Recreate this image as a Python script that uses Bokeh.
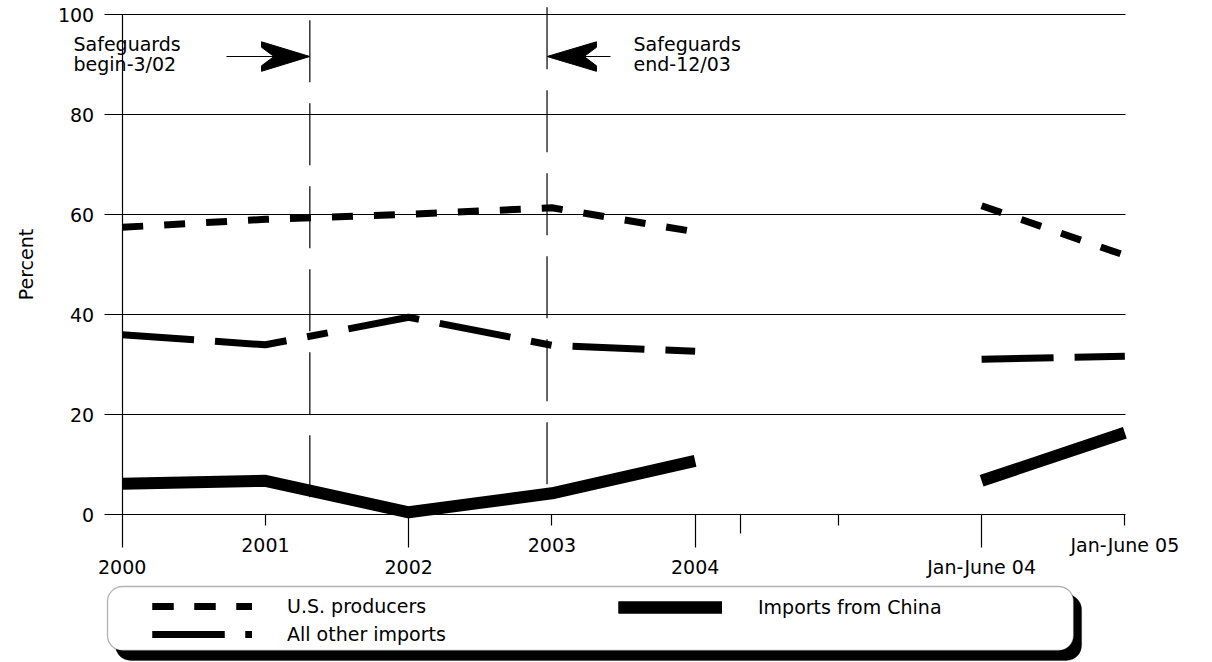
from bokeh.plotting import figure
from bokeh.models import (Range1d, LinearAxis, FixedTicker, Label, Legend, LegendItem,
                          BoxAnnotation)
from bokeh.embed import file_html
from bokeh.resources import INLINE

# ---------------- data ----------------
periods = ["2000", "2001", "2002", "2003", "2004", "Jan-June 04", "Jan-June 05"]
period_pos = [0, 1, 2, 3, 4, 6, 7]
us_producers = [57.5, 59.1, 60.1, 61.4, 56.6, 61.8, 51.9]
all_other_imports = [36.0, 34.0, 39.5, 33.9, 32.7, 31.1, 31.7]
imports_china = [6.2, 6.8, 0.5, 4.3, 10.8, 6.8, 16.4]
y_ticks = [0, 20, 40, 60, 80, 100]
extra_short_ticks = [5]
extra_mid_ticks = [4.32]
safeguard_x = [1.31, 2.966]
safeguard_top = [98.9, 101.5]
safeguard_bottom = [3.1, 5.7]
safeguard_text = ["Safeguards\nbegin-3/02", "Safeguards\nend-12/03"]

FONT = "DejaVu Sans"
FS = "19px"

p = figure(width=1212, height=662,
           x_range=Range1d(-0.8497, 7.612), y_range=Range1d(-29.54, 102.86),
           x_axis_type=None, y_axis_type=None,
           toolbar_location=None, output_backend="svg", min_border=0)
p.outline_line_color = None
p.background_fill_color = "white"
p.border_fill_color = "white"

# ---------------- axes ----------------
yaxis = LinearAxis(fixed_location=0, ticker=FixedTicker(ticks=y_ticks), bounds=(0, 100),
                   major_tick_out=18, major_tick_in=1003,
                   minor_tick_line_color=None,
                   axis_line_width=1.2, major_tick_line_width=1.2,
                   major_label_standoff=10,
                   major_label_text_font=FONT, major_label_text_font_size=FS,
                   major_label_text_color="black",
                   axis_label="Percent", axis_label_text_font=FONT,
                   axis_label_text_font_size=FS, axis_label_text_font_style="normal",
                   axis_label_text_color="black",
                   axis_label_standoff=18)
p.add_layout(yaxis, "left")

lower_idx = [0, 2, 4, 5]
upper_idx = [1, 3, 6]
lower_ticks = [period_pos[i] for i in lower_idx]
upper_ticks = [period_pos[i] for i in upper_idx] + extra_short_ticks

xa = LinearAxis(fixed_location=0, ticker=FixedTicker(ticks=lower_ticks), bounds=(0, 7),
                major_tick_out=33, major_tick_in=0, minor_tick_line_color=None,
                axis_line_width=1.2, major_tick_line_width=1.2,
                major_label_overrides={period_pos[i]: periods[i] for i in lower_idx},
                major_label_standoff=8,
                major_label_text_font=FONT, major_label_text_font_size=FS,
                major_label_text_color="black")
p.add_layout(xa, "below")

ov_up = {period_pos[i]: periods[i] for i in upper_idx}
for t in extra_short_ticks:
    ov_up[t] = ""
xb = LinearAxis(fixed_location=0, ticker=FixedTicker(ticks=upper_ticks), bounds=(0, 7),
                major_tick_out=11, major_tick_in=0, minor_tick_line_color=None,
                axis_line_color=None, major_tick_line_width=1.2,
                major_label_overrides=ov_up,
                major_label_standoff=8,
                major_label_text_font=FONT, major_label_text_font_size=FS,
                major_label_text_color="black")
p.add_layout(xb, "below")

xc = LinearAxis(fixed_location=0, ticker=FixedTicker(ticks=extra_mid_ticks), bounds=(0, 7),
                major_tick_out=19, major_tick_in=0, minor_tick_line_color=None,
                axis_line_color=None, major_tick_line_width=1.2,
                major_label_overrides={t: "" for t in extra_mid_ticks})
p.add_layout(xc, "below")

# ---------------- safeguard markers ----------------
p.segment(x0=safeguard_x, y0=safeguard_top, x1=safeguard_x, y1=safeguard_bottom,
          line_color="black", line_width=1.2, line_dash="62 21")

arrow_y = 91.66
# begin arrow (pointing right)
p.segment(x0=[0.728], y0=[arrow_y], x1=[safeguard_x[0]], y1=[arrow_y],
          line_color="black", line_width=1.2)
p.patch(x=[safeguard_x[0], 0.9726, 0.9726, 1.06, 0.9726, 0.9726],
        y=[arrow_y, 94.6, 93.5, arrow_y, 89.8, 88.7],
        fill_color="black", line_color="black", line_width=1)
# end arrow (pointing left)
p.segment(x0=[safeguard_x[1]], y0=[arrow_y], x1=[3.409], y1=[arrow_y],
          line_color="black", line_width=1.2)
p.patch(x=[safeguard_x[1], 3.311, 3.311, 3.225, 3.311, 3.311],
        y=[arrow_y, 94.6, 93.5, arrow_y, 89.8, 88.7],
        fill_color="black", line_color="black", line_width=1)

for tx, txt in zip([-0.34, 3.57], safeguard_text):
    p.add_layout(Label(x=tx, y=96.4, text=txt, text_font=FONT, text_font_size=FS,
                       text_baseline="top", text_align="left", text_line_height=0.92,
                       text_color="black"))

# ---------------- series ----------------
def split(vals):
    return (period_pos[:5], vals[:5]), (period_pos[5:], vals[5:])

(ax, ay), (bx, by) = split(us_producers)
us1 = p.line(ax, ay, line_color="black", line_width=7, line_dash="21 21")
us2 = p.line(bx, by, line_color="black", line_width=7, line_dash="21 21")

(ax, ay), (bx, by) = split(all_other_imports)
ot1 = p.line(ax, ay, line_color="black", line_width=7, line_dash="72 21 72 21 21 21")
ot2 = p.line(bx, by, line_color="black", line_width=7, line_dash="72 21 72 21 21 21")

(ax, ay), (bx, by) = split(imports_china)
ch1 = p.line(ax, ay, line_color="black", line_width=12)
ch2 = p.line(bx, by, line_color="black", line_width=12)

# ---------------- legend ----------------
shadow = BoxAnnotation(left=-0.0468, right=6.698, top=-15.94, bottom=-29.14,
                       fill_color="black", fill_alpha=1.0, line_color="black",
                       border_radius=15, level="underlay")
box = BoxAnnotation(left=-0.1026, right=6.642, top=-14.34, bottom=-27.14,
                    fill_color="white", fill_alpha=1.0, line_color="black",
                    line_width=1.3, border_radius=15, level="underlay")
p.add_layout(shadow)
p.add_layout(box)

leg1 = Legend(items=[LegendItem(label="U.S. producers", renderers=[us1, us2]),
                     LegendItem(label="All other imports", renderers=[ot1, ot2])],
              location=(152, 14), orientation="vertical",
              glyph_width=100, glyph_height=28, label_height=28, spacing=0,
              label_standoff=35, padding=0, margin=0,
              border_line_color=None, background_fill_alpha=0,
              label_text_font=FONT, label_text_font_size=FS, label_text_color="black")
leg2 = Legend(items=[LegendItem(label="Imports from China", renderers=[ch1, ch2])],
              location=(618, 41), orientation="vertical",
              glyph_width=104, glyph_height=28, label_height=28, spacing=0,
              label_standoff=36, padding=0, margin=0,
              border_line_color=None, background_fill_alpha=0,
              label_text_font=FONT, label_text_font_size=FS, label_text_color="black")
p.add_layout(leg1)
p.add_layout(leg2)

open("out.html", "w").write(file_html(p, INLINE))
